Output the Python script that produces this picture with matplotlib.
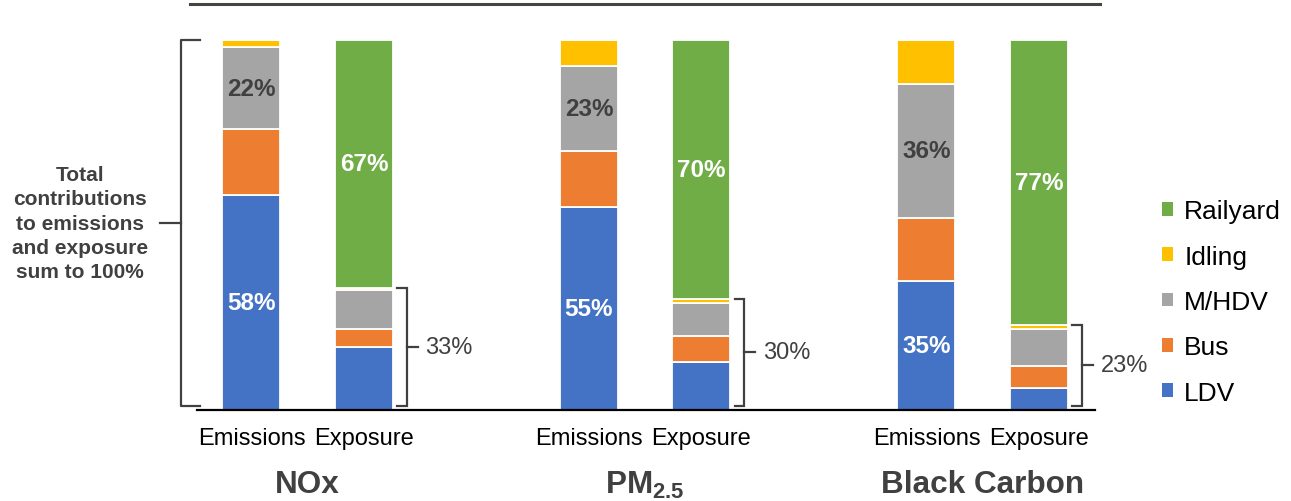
import matplotlib
matplotlib.use("Agg")
import matplotlib.pyplot as plt
from matplotlib.patches import Patch

plt.rcParams['font.family'] = ['Liberation Sans', 'DejaVu Sans']
plt.rcParams['mathtext.fontset'] = 'custom'
plt.rcParams['mathtext.rm'] = 'Liberation Sans:bold'
plt.rcParams['mathtext.bf'] = 'Liberation Sans:bold'

# Pollutant groups and the two bars within each group
pollutants = ['NOx', 'PM$_{2.5}$', 'Black Carbon']
bar_labels = ['Emissions', 'Exposure'] * 3

# Source contributions (%) per bar: NOx Em, NOx Ex, PM Em, PM Ex, BC Em, BC Ex
ldv = [58, 17, 55, 13, 35, 6]
bus = [18, 5, 15, 7, 17, 6]
mhdv = [22, 10.5, 23, 9, 36, 10]
idling = [2, 0.5, 7, 1, 12, 1]
railyard = [0, 67, 0, 70, 0, 77]

sources = ['LDV', 'Bus', 'M/HDV', 'Idling', 'Railyard']
colors = ['#4472C4', '#ED7D31', '#A5A5A5', '#FFC000', '#70AD47']
series = [ldv, bus, mhdv, idling, railyard]

x = [0, 1, 3, 4, 6, 7]
width = 0.516

fig = plt.figure(figsize=(12.91, 5.02), dpi=100)
ax = fig.add_axes([197 / 1291, 91 / 502, 898 / 1291, 370 / 502])

bottoms = [0.0] * len(x)
for name, col, vals in zip(sources, colors, series):
    ax.bar(x, vals, width, bottom=bottoms, color=col, edgecolor='white',
           linewidth=1.3, label=name, zorder=2)
    bottoms = [b + v for b, v in zip(bottoms, vals)]

ax.set_xlim(-0.484, 7.498)
ax.set_ylim(0, 100)
for s in ['top', 'right', 'left']:
    ax.spines[s].set_visible(False)
ax.spines['bottom'].set_color('black')
ax.spines['bottom'].set_linewidth(1.6)
ax.spines['bottom'].set_zorder(3)
ax.set_yticks([])
ax.set_xticks(x)
ax.set_xticklabels(bar_labels, fontsize=17, color='black')
ax.tick_params(axis='x', length=0, pad=12)

dark = '#404040'

# Value labels inside segments
for i in range(len(x)):
    if railyard[i] == 0:
        ax.text(x[i], ldv[i] / 2, f'{ldv[i]:.0f}%', ha='center', va='center',
                color='white', fontsize=17.5, fontweight='bold', zorder=4)
        y0 = ldv[i] + bus[i]
        ax.text(x[i], y0 + mhdv[i] / 2, f'{mhdv[i]:.0f}%', ha='center',
                va='center', color=dark, fontsize=17.5, fontweight='bold',
                zorder=4)
    else:
        base = 100 - railyard[i]
        ax.text(x[i], base + railyard[i] / 2, f'{railyard[i]:.0f}%',
                ha='center', va='center', color='white', fontsize=17.5,
                fontweight='bold', zorder=4)
        # bracket around non-railyard share
        xv = x[i] + width / 2 + 0.124
        xa = x[i] + width / 2 + 0.036
        top, bot = base, 1.1
        ax.plot([xa, xv, xv, xa], [top, top, bot, bot], color=dark, lw=1.6,
                clip_on=False, solid_joinstyle='miter', zorder=3)
        mid = (top + bot) / 2
        ax.plot([xv, xv + 0.098], [mid, mid], color=dark, lw=1.6, clip_on=False)
        ax.text(xv + 0.165, mid, f'{base:.0f}%', ha='left', va='center',
                color=dark, fontsize=17)

# Pollutant group titles
for j, name in enumerate(pollutants):
    xc = (x[2 * j] + x[2 * j + 1]) / 2
    ax.text(xc, -0.2, name, transform=ax.get_xaxis_transform(), ha='center',
            va='center', fontsize=22.7, fontweight='bold', color=dark)

# Rule across the top
ax.plot([-0.547, 7.54], [109.7, 109.7], color='#45453f', lw=2.2, clip_on=False)

# Left brace and its note
bx, barm, btick = -0.627, -0.458, -0.813
ax.plot([barm, bx, bx, barm], [100, 100, 1.1, 1.1], color=dark, lw=1.6,
        clip_on=False)
ax.plot([btick, bx], [50.5, 50.5], color=dark, lw=1.6, clip_on=False)
ax.text(-1.524, 50.5, 'Total\ncontributions\nto emissions\nand exposure\nsum to 100%',
        ha='center', va='center', fontsize=15, fontweight='bold', color=dark,
        linespacing=1.36)

# Legend, top entry is the top of the stack
handles = [Patch(facecolor=c, edgecolor='none') for c in colors][::-1]
fig.legend(handles, sources[::-1], loc='center left',
           bbox_to_anchor=(1162 / 1291, (502 - 303) / 502), frameon=False,
           fontsize=19, handlelength=0.42, handleheight=0.42, handletextpad=0.42,
           labelspacing=0.81, borderpad=0, borderaxespad=0)

fig.savefig('out.png', dpi=100)
